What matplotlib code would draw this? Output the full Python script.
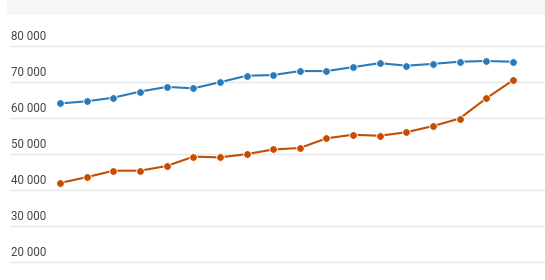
import matplotlib.pyplot as plt
from matplotlib.patches import Rectangle

plt.rcParams['font.family'] = ['Roboto', 'DejaVu Sans']

# значения
points = list(range(18))
blue_values = [64100, 64700, 65700, 67400, 68700, 68300, 70000, 71800, 72000,
               73100, 73100, 74200, 75300, 74600, 75100, 75700, 75900, 75700]
orange_values = [42000, 43600, 45400, 45400, 46700, 49300, 49100, 50000, 51300,
                 51700, 54400, 55400, 55100, 56100, 57800, 59900, 65500, 70500]
y_ticks = [20000, 30000, 40000, 50000, 60000, 70000, 80000]
y_tick_labels = ['20 000', '30 000', '40 000', '50 000', '60 000', '70 000', '80 000']

W, H = 545, 280
fig = plt.figure(figsize=(W / 100, H / 100), dpi=100)

# серая полоса сверху
fig.patches.append(Rectangle((7 / W, 267 / H), 1 - 7 / W, 13 / H,
                             transform=fig.transFigure, color='#f6f6f6', zorder=0))

ax = fig.add_axes([11 / W, 0, 1 - 11 / W, 267 / H])
ax.set_xlim(-1.85, 18.21)
ax.set_ylim(15000, 89250)

for s in ax.spines.values():
    s.set_visible(False)
ax.set_xticks([])
ax.set_yticks(y_ticks)
ax.set_yticklabels([])
ax.tick_params(axis='y', length=0)
ax.grid(axis='y', color='#e6e6e6', linewidth=1)
ax.set_axisbelow(True)

for v, lab in zip(y_ticks, y_tick_labels):
    ax.annotate(lab, xy=(0, v), xycoords=('axes fraction', 'data'),
                xytext=(0, 2), textcoords='offset points',
                ha='left', va='bottom', fontsize=8.3, color='#444444')

ax.plot(points, blue_values, color='#2b7bba', linewidth=1.5, marker='o',
        markersize=5.5, markeredgecolor='white', markeredgewidth=0.6)
ax.plot(points, orange_values, color='#c44e00', linewidth=1.5, marker='o',
        markersize=5.5, markeredgecolor='white', markeredgewidth=0.6)

fig.savefig('out.png', dpi=100)
